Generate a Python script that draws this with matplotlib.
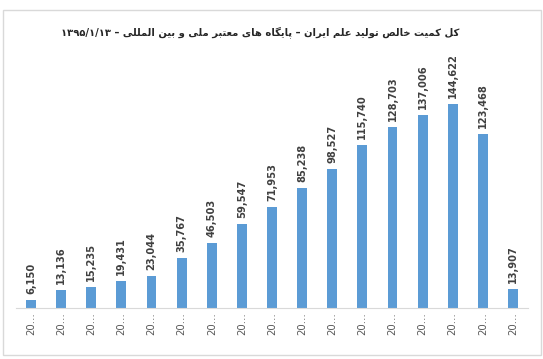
import re
import matplotlib
matplotlib.use("Agg")
import matplotlib.pyplot as plt
from matplotlib.patches import Rectangle

# data
years = ["20…"] * 17
values = [6150, 13136, 15235, 19431, 23044, 35767, 46503, 59547, 71953,
          85238, 98527, 115740, 128703, 137006, 144622, 123468, 13907]
title = "کل کمیت خالص تولید علم ایران – پایگاه های معتبر ملی و بین المللی – ۱۳۹۵/۱/۱۳"

# Persian contextual forms: isolated, final, initial, medial
FORMS = {
    'ا': ('\uFE8D', '\uFE8E', None, None),
    'د': ('\uFEA9', '\uFEAA', None, None),
    'ر': ('\uFEAD', '\uFEAE', None, None),
    'و': ('\uFEED', '\uFEEE', None, None),
    'ب': ('\uFE8F', '\uFE90', '\uFE91', '\uFE92'),
    'پ': ('\uFB56', '\uFB57', '\uFB58', '\uFB59'),
    'ت': ('\uFE95', '\uFE96', '\uFE97', '\uFE98'),
    'خ': ('\uFEA5', '\uFEA6', '\uFEA7', '\uFEA8'),
    'ص': ('\uFEB9', '\uFEBA', '\uFEBB', '\uFEBC'),
    'ع': ('\uFEC9', '\uFECA', '\uFECB', '\uFECC'),
    'گ': ('\uFB92', '\uFB93', '\uFB94', '\uFB95'),
    'ک': ('\uFB8E', '\uFB8F', '\uFB90', '\uFB91'),
    'ل': ('\uFEDD', '\uFEDE', '\uFEDF', '\uFEE0'),
    'م': ('\uFEE1', '\uFEE2', '\uFEE3', '\uFEE4'),
    'ن': ('\uFEE5', '\uFEE6', '\uFEE7', '\uFEE8'),
    'ه': ('\uFEE9', '\uFEEA', '\uFEEB', '\uFEEC'),
    'ی': ('\uFBFC', '\uFBFD', '\uFBFE', '\uFBFF'),
}


def shape_rtl(text):
    out = []
    for i, c in enumerate(text):
        if c not in FORMS:
            out.append(c)
            continue
        f = FORMS[c]
        prev = text[i - 1] if i > 0 else ''
        nxt = text[i + 1] if i + 1 < len(text) else ''
        jp = prev in FORMS and FORMS[prev][2] is not None
        jn = f[2] is not None and nxt in FORMS
        if jp and jn:
            out.append(f[3])
        elif jp:
            out.append(f[1])
        elif jn:
            out.append(f[2])
        else:
            out.append(f[0])
    shaped = ''.join(out)
    runs = re.findall(r'[0-9\u06F0-\u06F9/]+|[^0-9\u06F0-\u06F9/]+', shaped)
    return ''.join(r if re.match(r'[0-9\u06F0-\u06F9/]', r) else r[::-1]
                   for r in reversed(runs))


W, H = 543, 359
fig = plt.figure(figsize=(W / 100, H / 100), dpi=100)

# light chart-area border
fig.patches.append(Rectangle((3 / W, 1 - 355 / H), 538 / W, 345 / H,
                             transform=fig.transFigure, fill=False,
                             edgecolor='#D9D9D9', linewidth=1))

ax = fig.add_axes([16 / W, 1 - 308.3 / H, 512 / W, 226 / H])
x = list(range(len(values)))
ax.bar(x, values, width=0.33, color='#5B9BD5')
ax.set_xlim(-0.5, len(values) - 0.5)
ax.set_ylim(0, 160000)

for xi, v in zip(x, values):
    ax.annotate(f"{v:,}", (xi, v), xytext=(0, 4.3), textcoords='offset points',
                rotation=90, ha='center', va='bottom', fontsize=7.1,
                fontweight='bold', color='#404040', family='DejaVu Sans')

ax.set_xticks(x)
ax.set_xticklabels(years, rotation=90, fontsize=7.3, color='#595959',
                   family='DejaVu Sans')
ax.tick_params(axis='x', length=0, pad=3)
ax.set_yticks([])
for s in ['left', 'right', 'top']:
    ax.spines[s].set_visible(False)
ax.spines['bottom'].set_color('#D9D9D9')

fig.text(260 / W, 1 - 32 / H, shape_rtl(title), ha='center', va='center',
         fontsize=7.2, fontweight='bold', color='#262626', family='DejaVu Sans')

fig.savefig("out.png", dpi=100)
